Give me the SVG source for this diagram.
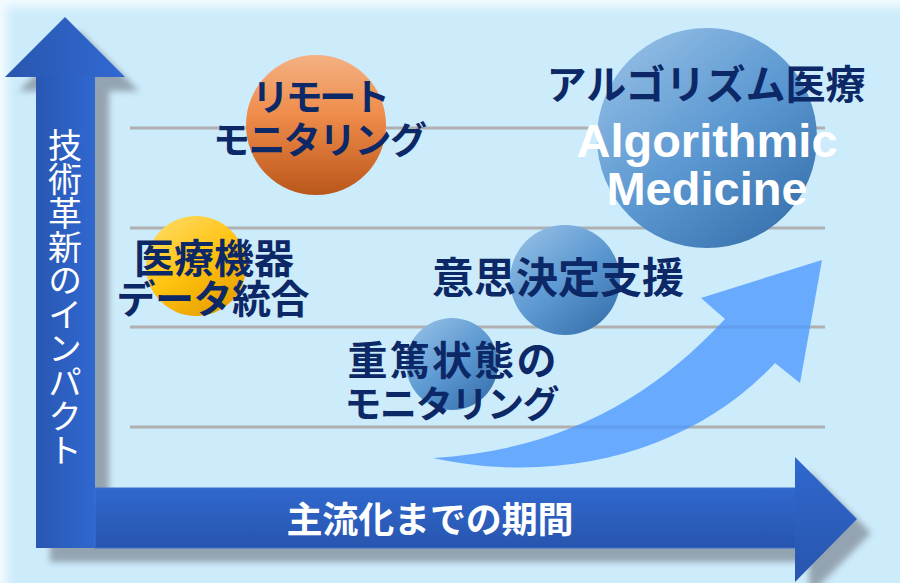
<svg xmlns="http://www.w3.org/2000/svg" width="900" height="583" viewBox="0 0 900 583">
  <defs>
    <filter id="soft" x="-10%" y="-10%" width="120%" height="120%">
      <feGaussianBlur stdDeviation="5"/>
    </filter>
    <filter id="shadow" x="-10%" y="-10%" width="130%" height="130%">
      <feGaussianBlur stdDeviation="3"/>
    </filter>
    <linearGradient id="shaftV" x1="0" y1="0" x2="1" y2="0">
      <stop offset="0" stop-color="#2957B2"/>
      <stop offset="1" stop-color="#3068D0"/>
    </linearGradient>
    <linearGradient id="barH" x1="0" y1="0" x2="0" y2="1">
      <stop offset="0" stop-color="#3068CE"/>
      <stop offset="1" stop-color="#2855AE"/>
    </linearGradient>
    <linearGradient id="headV" x1="0" y1="0" x2="1" y2="0">
      <stop offset="0" stop-color="#2856AE"/>
      <stop offset="1" stop-color="#3169D2"/>
    </linearGradient>
    <linearGradient id="gOrange" x1="0" y1="0" x2="0" y2="1">
      <stop offset="0" stop-color="#F4B183"/>
      <stop offset="0.45" stop-color="#EE8A48"/>
      <stop offset="1" stop-color="#B9561A"/>
    </linearGradient>
    <linearGradient id="gYellow" x1="0.2" y1="0.05" x2="0.8" y2="0.95">
      <stop offset="0" stop-color="#FFD85A"/>
      <stop offset="0.5" stop-color="#FFC20E"/>
      <stop offset="1" stop-color="#E59F00"/>
    </linearGradient>
    <linearGradient id="gBlue" x1="0.15" y1="0.08" x2="0.85" y2="0.92">
      <stop offset="0" stop-color="#8FBBE3"/>
      <stop offset="0.5" stop-color="#5D99D2"/>
      <stop offset="1" stop-color="#3A74B0"/>
    </linearGradient>
    <style>
      .grid { stroke: #B0B0B0; stroke-width: 3; }
      .dark { fill: #0C2866; font-family: "Noto Sans CJK JP", "Noto Sans", sans-serif; font-weight: bold; text-anchor: middle; }
      .white { fill: #FFFFFF; font-family: "Noto Sans CJK JP", "Noto Sans", sans-serif; font-weight: bold; }
      .latin { fill: #FFFFFF; font-family: "Liberation Sans", Arial, sans-serif; font-weight: bold; font-size: 47px; text-anchor: middle; }
    </style>
  </defs>

  <!-- background -->
  <rect x="0" y="0" width="900" height="583" fill="#F2FAFE"/>
  <rect x="7" y="7" width="910" height="600" fill="#CCEBFB" filter="url(#soft)"/>

  <!-- grid lines -->
  <g id="grid">
    <line class="grid" x1="130" y1="128" x2="825" y2="128"/>
    <line class="grid" x1="130" y1="228" x2="825" y2="228"/>
    <line class="grid" x1="130" y1="327" x2="825" y2="327"/>
    <line class="grid" x1="130" y1="427" x2="825" y2="427"/>
  </g>

  <!-- axes -->
  <g id="axes">
    <path d="M65,17 L125,77 L95,77 L95,488 L795,488 L795,457 L857,519 L795,582 L795,548 L36,548 L36,77 L5,77 Z" fill="#8F9CA8" transform="translate(14,14)" filter="url(#shadow)" opacity="0.9"/>
    <path d="M65,17 L125,77 L5,77 Z" fill="url(#headV)"/>
    <rect x="36" y="76" width="59" height="472" fill="url(#shaftV)"/>
    <rect x="95" y="488" width="701" height="60" fill="url(#barH)" stroke="#3A70D2" stroke-width="1"/>
    <path d="M795,457 L857,519 L795,582 Z" fill="url(#barH)"/>
    <text class="white" x="65" y="128" font-size="34" style="writing-mode: vertical-rl; font-weight: 400;" textLength="339" lengthAdjust="spacing">技術革新のインパクト</text>
    <text class="white" x="430" y="533" font-size="36" text-anchor="middle" textLength="287" lengthAdjust="spacing">主流化までの期間</text>
  </g>

  <!-- nodes -->
  <g id="node-remote">
    <circle cx="316" cy="125" r="70" fill="url(#gOrange)"/>
    <text class="dark" x="321" y="111" font-size="37" textLength="138" lengthAdjust="spacing">リモート</text>
    <text class="dark" x="320" y="154" font-size="37" textLength="214" lengthAdjust="spacing">モニタリング</text>
  </g>

  <g id="node-device">
    <circle cx="196" cy="266" r="50" fill="url(#gYellow)"/>
    <text class="dark" x="214" y="273" font-size="40">医療機器</text>
    <text class="dark" x="213" y="313" font-size="39" textLength="193" lengthAdjust="spacing">データ統合</text>
  </g>

  <g id="node-algorithmic">
    <circle cx="707" cy="138" r="110" fill="url(#gBlue)"/>
    <text class="dark" x="706" y="99" font-size="40">アルゴリズム医療</text>
    <text class="latin" x="707" y="157">Algorithmic</text>
    <text class="latin" x="707" y="205">Medicine</text>
  </g>

  <g id="node-decision">
    <circle cx="565" cy="280" r="55" fill="url(#gBlue)"/>
    <text class="dark" x="558" y="293" font-size="42">意思決定支援</text>
  </g>

  <g id="node-critical">
    <circle cx="452" cy="364" r="46" fill="url(#gBlue)"/>
    <text class="dark" x="452" y="375" font-size="40" textLength="209" lengthAdjust="spacing">重篤状態の</text>
    <text class="dark" x="452" y="418" font-size="37" textLength="215" lengthAdjust="spacing">モニタリング</text>
  </g>

  <!-- connectors -->
  <g id="connectors">
    <path d="M433,458 C560,450 650,400 725,319 L701,298 L822,260 L800,383 L775,363 C700,445 570,488 433,458 Z" fill="#4D9AFF" opacity="0.8"/>
  </g>
</svg>
